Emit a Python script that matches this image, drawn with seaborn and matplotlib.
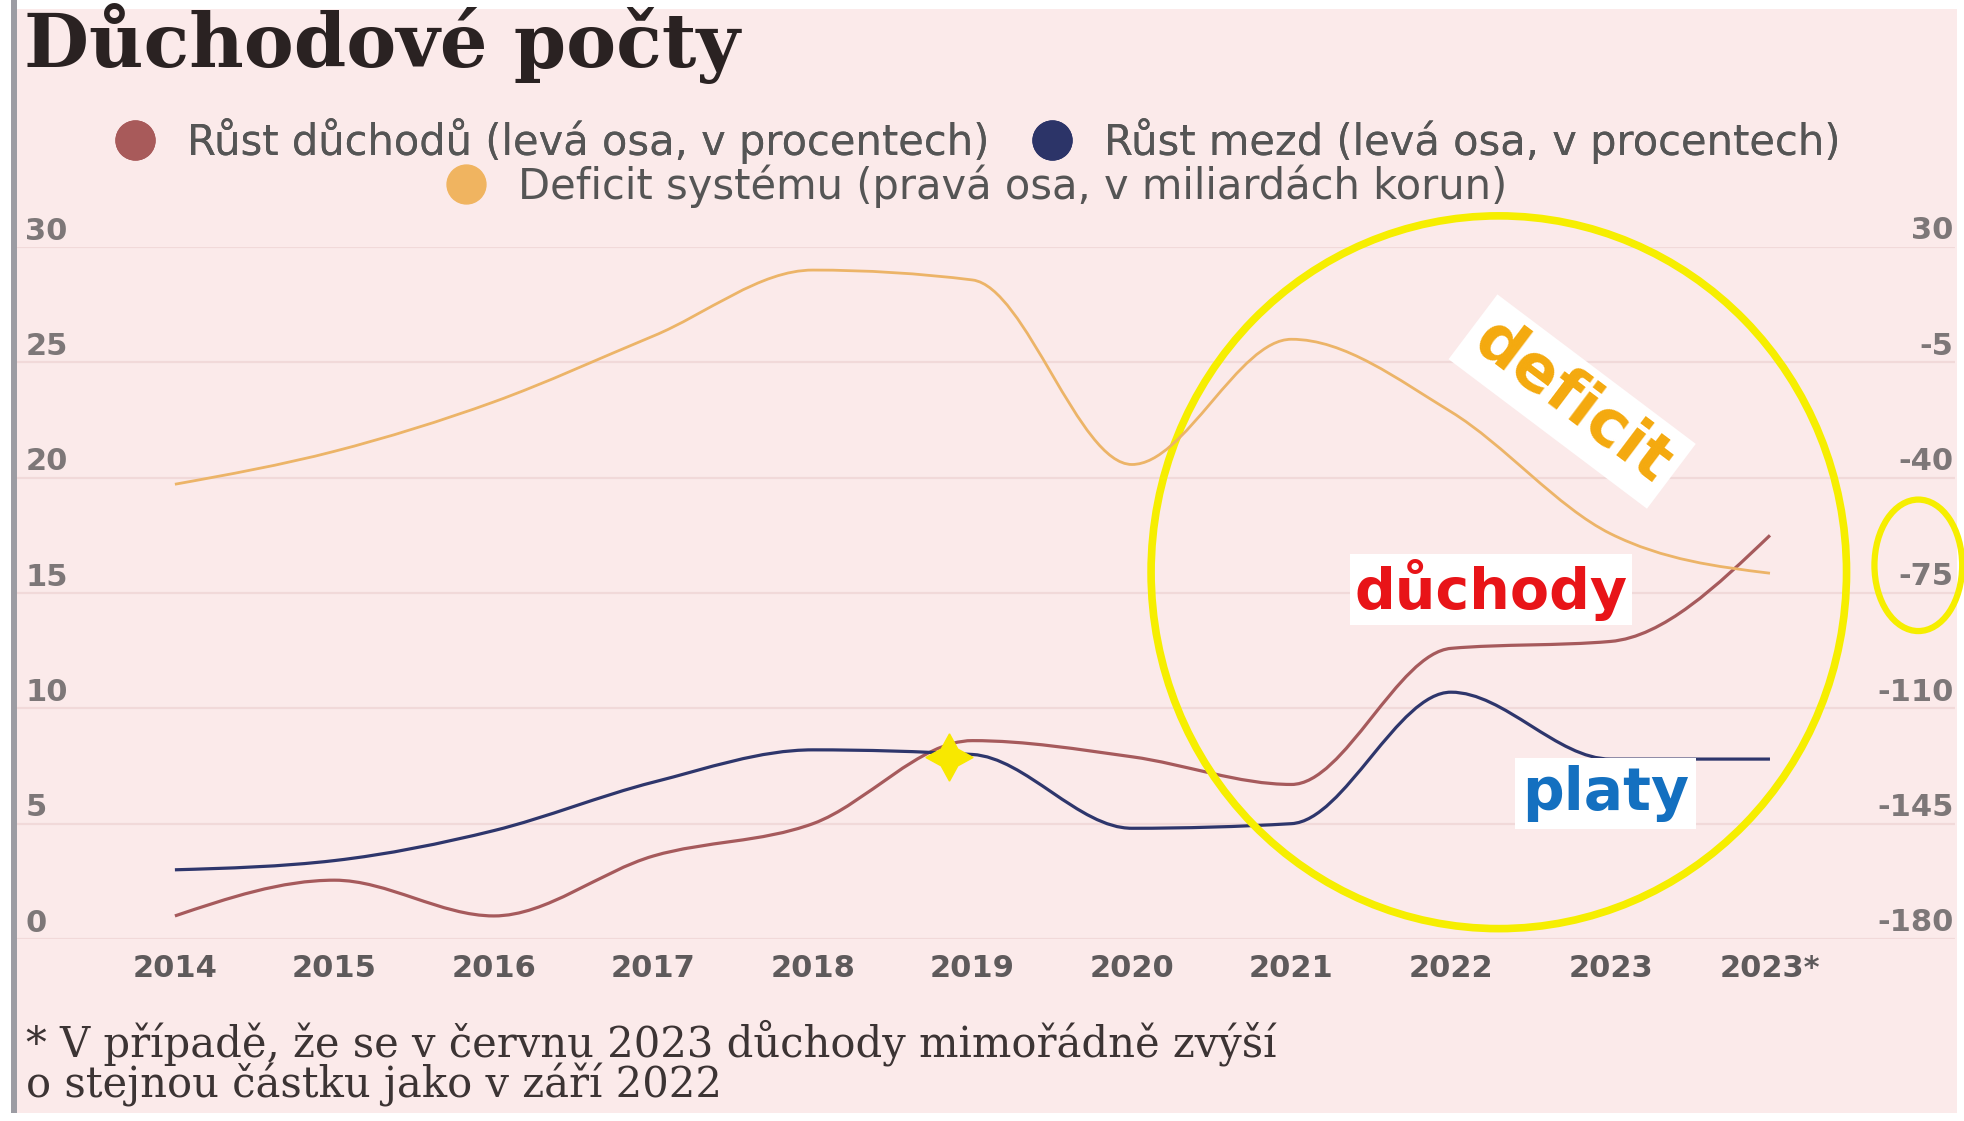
import numpy as np
import seaborn as sns
import matplotlib.pyplot as plt
from matplotlib.path import Path
from matplotlib.patches import PathPatch, Ellipse, Rectangle
from matplotlib.lines import Line2D
from matplotlib.transforms import ScaledTranslation

# --- data ---
years = ["2014", "2015", "2016", "2017", "2018", "2019", "2020", "2021", "2022", "2023", "2023*"]
pension_growth = [1.0, 2.55, 1.0, 3.6, 5.0, 8.6, 7.9, 6.7, 12.6, 12.9, 17.5]   # left axis, %
wage_growth = [3.0, 3.4, 4.7, 6.8, 8.2, 8.0, 4.8, 5.0, 10.7, 7.8, 7.8]          # left axis, %
deficit = [-42, -32, -17, 3, 23, 20, -36, 2, -20, -57, -69]                     # right axis, bn CZK

left_ticks = [0, 5, 10, 15, 20, 25, 30]
right_ticks = [-180, -145, -110, -75, -40, -5, 30]

labels = ["Růst důchodů (levá osa, v procentech)",
          "Růst mezd (levá osa, v procentech)",
          "Deficit systému (pravá osa, v miliardách korun)"]
c_pension, c_wage, c_deficit = "#a65a5c", "#2e366c", "#ecb468"
c_pension_dot, c_wage_dot, c_deficit_dot = "#a85a5a", "#2c3468", "#f0b460"

BG = "#fbeaea"
GRID = "#f1d9d9"
TICK = "#7d7778"
YELLOW = "#f6ee00"


def smooth_path(xs, ys):
    # monotone cubic (like d3 curveMonotoneX) drawn as bezier segments
    xs = np.asarray(xs, float)
    ys = np.asarray(ys, float)
    h = np.diff(xs)
    s = np.diff(ys) / h
    t = np.zeros(len(xs))
    for i in range(1, len(xs) - 1):
        p = (s[i - 1] * h[i] + s[i] * h[i - 1]) / (h[i - 1] + h[i])
        t[i] = (np.sign(s[i - 1]) + np.sign(s[i])) * min(abs(s[i - 1]), abs(s[i]), 0.5 * abs(p))
    t[0] = (3 * s[0] - t[1]) / 2
    t[-1] = (3 * s[-1] - t[-2]) / 2
    verts = [(xs[0], ys[0])]
    codes = [Path.MOVETO]
    for i in range(len(xs) - 1):
        d = h[i] / 3
        verts += [(xs[i] + d, ys[i] + d * t[i]),
                  (xs[i + 1] - d, ys[i + 1] - d * t[i + 1]),
                  (xs[i + 1], ys[i + 1])]
        codes += [Path.CURVE4] * 3
    return Path(verts, codes)


sns.set_theme(style="white", rc={"axes.facecolor": BG, "figure.facecolor": "white"})
plt.rcParams["font.family"] = ["DejaVu Sans"]
plt.rcParams["axes.unicode_minus"] = False

W, H = 1964, 1121
fig = plt.figure(figsize=(W / 100, H / 100), dpi=100)

# pink panel + grey bar on the left
fig.patches.append(Rectangle((17 / W, 8 / H), (1957 - 17) / W, (1112 - 8) / H,
                             transform=fig.transFigure, facecolor=BG, edgecolor="none", zorder=-10))
fig.patches.append(Rectangle((11 / W, 8 / H), 6 / W, 1 - 8 / H,
                             transform=fig.transFigure, facecolor="#9c9ca3", edgecolor="none", zorder=-5))

ax = fig.add_axes([17 / W, 1 - 939 / H, (1955 - 17) / W, (939 - 247) / H])
ax2 = ax.twinx()
x = np.arange(len(years))

ax.set_xlim(-0.99, 11.16)
ax.set_ylim(0, 30)
ax2.set_ylim(-180, 30)

ax.add_patch(PathPatch(smooth_path(x, pension_growth), fill=False, edgecolor=c_pension, lw=2.3, zorder=3))
ax.add_patch(PathPatch(smooth_path(x, wage_growth), fill=False, edgecolor=c_wage, lw=2.3, zorder=3))
ax2.add_patch(PathPatch(smooth_path(x, deficit), fill=False, edgecolor=c_deficit, lw=2.0, zorder=3))

# grid + ticks
ax.set_yticks(left_ticks)
ax2.set_yticks(right_ticks)
ax.yaxis.grid(True, color=GRID, lw=1.6)
ax.set_axisbelow(True)
ax.set_xticks(x)
ax.set_xticklabels(years)
for a in (ax, ax2):
    for sp in a.spines.values():
        sp.set_visible(False)
ax.tick_params(axis="x", length=0, pad=11, labelsize=22, labelcolor="#5e5a5b")
ax.tick_params(axis="y", length=0, pad=-6, labelsize=22, labelcolor=TICK)
ax2.tick_params(axis="y", length=0, pad=-1, labelsize=22, labelcolor=TICK)
up = ScaledTranslation(0, 0.19, fig.dpi_scale_trans)
for lab in ax.get_yticklabels():
    lab.set_horizontalalignment("left")
    lab.set_fontweight("bold")
    lab.set_transform(lab.get_transform() + up)
for lab in ax2.get_yticklabels():
    lab.set_horizontalalignment("right")
    lab.set_fontweight("bold")
    lab.set_transform(lab.get_transform() + up)
for lab in ax.get_xticklabels():
    lab.set_fontweight("bold")

# title
fig.text(24 / W, 1 - 44 / H, "Důchodové počty", family="DejaVu Serif", fontweight="bold",
         fontsize=54, color="#2a2222", va="center", ha="left")

# legend
def dot(c):
    return Line2D([], [], ls="none", marker="o", markersize=28, markerfacecolor=c, markeredgecolor=c)

leg_kw = dict(loc="center", frameon=False, fontsize=30, labelcolor="#555555",
              handlelength=1.0, handletextpad=0.75, borderpad=0)
leg1 = fig.legend([dot(c_pension_dot), dot(c_wage_dot)], labels[:2],
                  bbox_to_anchor=(977 / W, 1 - 141 / H), ncol=2, columnspacing=1.0, **leg_kw)
fig.legend([dot(c_deficit_dot)], labels[2:], bbox_to_anchor=(976 / W, 1 - 186 / H), **leg_kw)
fig.add_artist(leg1)

# footnote
fig.text(26 / W, 1 - 1043 / H, "* V případě, že se v červnu 2023 důchody mimořádně zvýší",
         family="DejaVu Serif", fontsize=30, color="#3c3434", va="center", ha="left")
fig.text(26 / W, 1 - 1085 / H, "o stejnou částku jako v září 2022",
         family="DejaVu Serif", fontsize=30, color="#3c3434", va="center", ha="left")

# annotations
ax.add_patch(Ellipse((8.30, 15.9), 4.36, 30.9, fill=False, edgecolor=YELLOW, lw=5.5, zorder=5, clip_on=False))
ax.add_patch(Ellipse((10.93, 16.2), 0.55, 5.7, fill=False, edgecolor=YELLOW, lw=4.5, zorder=5, clip_on=False))
ax.plot([4.85], [7.9], marker=(4, 1, 0), markersize=34, color="#f8e800", zorder=6, ls="none")

ax.text(8.76, 23.3, "deficit", rotation=-37, rotation_mode="anchor", ha="center", va="center",
        fontsize=46, fontweight="bold", color="#f4a90e", zorder=6,
        bbox=dict(boxstyle="square,pad=0.15", facecolor="white", edgecolor="none"))
ax.text(8.25, 15.15, "důchody", ha="center", va="center", fontsize=41, fontweight="bold",
        color="#e81418", zorder=6,
        bbox=dict(boxstyle="square,pad=0.08", facecolor="white", edgecolor="none"))
ax.text(8.97, 6.3, "platy", ha="center", va="center", fontsize=42, fontweight="bold",
        color="#1470c0", zorder=6,
        bbox=dict(boxstyle="square,pad=0.12", facecolor="white", edgecolor="none"))

fig.savefig("out.png", dpi=100)
